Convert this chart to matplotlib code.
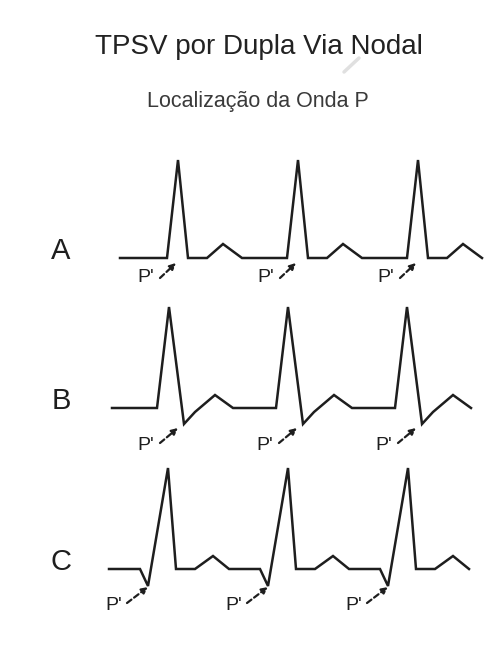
import matplotlib
matplotlib.use("Agg")
import matplotlib.pyplot as plt
import numpy as np

plt.rcParams['font.family'] = ['Liberation Sans', 'DejaVu Sans']

# ---- data (pixel-like units: x = time, amp = deflection above baseline) ----
row_labels = ["A", "B", "C"]
baselines = [258, 408, 569]
trace_start = [120, 112, 109]

peaks_A = [178, 298, 418]
peaks_B = [169, 288, 407]
peaks_C = [168, 288, 408]

tmpl_A_dx = [-11, 0, 10, 29, 45, 64]
tmpl_A_amp = [0, 98, 0, 0, 14, 0]

tmpl_B_dx = [-12, 0, 15, 26, 46, 64]
tmpl_B_amp = [0, 101, -16, -4, 13, 0]

tmpl_C_dx = [-28, -20, 0, 8, 27, 45, 61]
tmpl_C_amp = [0, -17, 101, 0, 0, 13, 0]

# P' label and arrow positions relative to each QRS peak (dx, depth below baseline)
plabel_dx = [-32, -23, -54]
plabel_dy = [20, 38, 36]
arrow_tail = [(-18, 20), (-9, 35), (-41, 34)]
arrow_head = [(-2, 5), (9, 20), (-20, 18)]

title = "TPSV por Dupla Via Nodal"
subtitle = "Localização da Onda P"

peaks = [peaks_A, peaks_B, peaks_C]
tdx = [tmpl_A_dx, tmpl_B_dx, tmpl_C_dx]
tamp = [tmpl_A_amp, tmpl_B_amp, tmpl_C_amp]

fig = plt.figure(figsize=(4.94, 6.45), dpi=100)
ax = fig.add_axes([0, 0, 1, 1])
ax.set_xlim(0, 494)
ax.set_ylim(645, 0)
ax.axis("off")

ink = "#1e1e1e"

for i in range(3):
    base = baselines[i]
    xs = [trace_start[i]]
    ys = [0]
    for p in peaks[i]:
        for dx, a in zip(tdx[i], tamp[i]):
            xs.append(p + dx)
            ys.append(a)
    xs = np.array(xs, dtype=float)
    ys = base - np.array(ys, dtype=float)
    ax.plot(xs, ys, color=ink, lw=1.8, solid_joinstyle="miter")

    ax.text(61, base - 7, row_labels[i], fontsize=21, ha="center", va="center", color=ink)

    for p in peaks[i]:
        ax.text(p + plabel_dx[i], base + plabel_dy[i], "P'", fontsize=14,
                ha="center", va="center", color=ink)
        tx, ty = arrow_tail[i]
        hx, hy = arrow_head[i]
        ax.annotate("", xy=(p + hx, base + hy), xytext=(p + tx, base + ty),
                    arrowprops=dict(arrowstyle="-|>", color=ink, lw=1.6,
                                    linestyle=(0, (2.5, 1.5)),
                                    mutation_scale=9, shrinkA=0, shrinkB=0))

# faint stroke artifact near the title
ax.plot([344, 359], [72, 58], color="#e0e0e0", lw=2.5, solid_capstyle="round")

ax.text(259, 47, title, fontsize=20, ha="center", va="center", color="#222222")
ax.text(258, 102, subtitle, fontsize=15.5, ha="center", va="center", color="#3a3a3a")

fig.savefig("out.png", dpi=100)
